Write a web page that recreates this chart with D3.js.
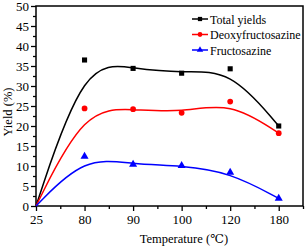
<!DOCTYPE html>
<html>
<head>
<meta charset="utf-8">
<script src="https://cdn.jsdelivr.net/npm/d3@7"></script>
<style>
body { margin: 0; background: #fff; }
svg text { font-family: "Liberation Serif", Tinos, "Times New Roman", "DejaVu Serif", serif !important; }
</style>
</head>
<body>
<svg width="307" height="247"></svg>
<script>
const temps = ['25', '80', '90', '100', '120', '180'];
const totalYields = [0, 36.5, 34.4, 33.2, 34.3, 20.0];
const deoxy = [0, 24.4, 24.2, 23.3, 26.1, 18.2];
const fructo = [0, 12.4, 10.4, 10.1, 8.4, 1.9];
const yTicks = [0, 5, 10, 15, 20, 25, 30, 35, 40, 45, 50];

const series = [
    {name: 'Total yields', values: totalYields, color: '#000000', shape: d3.symbolSquare},
    {name: 'Deoxyfructosazine', values: deoxy, color: '#ff0000', shape: d3.symbolCircle},
    {name: 'Fructosazine', values: fructo, color: '#0000ff', shape: d3.symbolTriangle}
];

const svg = d3.select('svg');
const margin = {top: 6, right: 4, bottom: 41, left: 36};
const width = 307, height = 247;
const chartWidth = width - margin.left - margin.right;
const chartHeight = height - margin.top - margin.bottom;
const chartArea = svg.append('g')
    .attr('transform', `translate(${margin.left},${margin.top})`);

const xScale = d3.scaleLinear().domain([0, temps.length - 0.5]).range([0, chartWidth]);
const yScale = d3.scaleLinear().domain([0, 50]).range([chartHeight, 0]);

// minor ticks first
chartArea.append('g')
    .attr('transform', `translate(0,${chartHeight})`)
    .call(d3.axisBottom(xScale).tickValues(d3.range(0.5, temps.length, 1)).tickSize(3).tickFormat(''))
    .call(g => g.select('.domain').remove());
chartArea.append('g')
    .call(d3.axisLeft(yScale).tickValues(d3.range(2.5, 50, 5)).tickSize(3).tickFormat(''))
    .call(g => g.select('.domain').remove());

const xAxis = chartArea.append('g')
    .attr('transform', `translate(0,${chartHeight})`)
    .call(d3.axisBottom(xScale).tickValues(d3.range(temps.length)).tickSize(5).tickPadding(4)
        .tickFormat(i => temps[i]));
const yAxis = chartArea.append('g')
    .call(d3.axisLeft(yScale).tickValues(yTicks).tickSize(5).tickPadding(2));

chartArea.selectAll('g').attr('font-family', null);
chartArea.selectAll('.tick line').attr('stroke', '#000').attr('stroke-width', 1.3);
chartArea.selectAll('.tick text').attr('font-size', 13).attr('fill', '#000');
xAxis.select('.domain').remove();
yAxis.select('.domain').remove();

// frame
chartArea.append('rect')
    .attr('x', 0).attr('y', 0)
    .attr('width', chartWidth).attr('height', chartHeight)
    .attr('fill', 'none').attr('stroke', '#000').attr('stroke-width', 1.5);

const line = d3.line()
    .x((d, i) => xScale(i))
    .y(d => yScale(d))
    .curve(d3.curveBasis);

series.forEach(s => {
    chartArea.append('path')
        .datum(s.values)
        .attr('d', line)
        .attr('fill', 'none')
        .attr('stroke', s.color)
        .attr('stroke-width', 1.5);
    chartArea.selectAll(null)
        .data(s.values.slice(1))
        .enter().append('path')
        .attr('transform', (d, i) => `translate(${xScale(i + 1)},${yScale(d)})`)
        .attr('d', d3.symbol().type(s.shape).size(s.shape === d3.symbolTriangle ? 28 : 26))
        .attr('fill', s.color);
});

// legend
const legend = svg.append('g').attr('transform', 'translate(192,19)');
series.forEach((s, i) => {
    const row = legend.append('g').attr('transform', `translate(0,${i * 15.5})`);
    row.append('line').attr('x1', 0).attr('x2', 16).attr('y1', 0).attr('y2', 0)
        .attr('stroke', s.color).attr('stroke-width', 1.5);
    row.append('path').attr('transform', 'translate(8,0)')
        .attr('d', d3.symbol().type(s.shape).size(18)).attr('fill', s.color);
    row.append('text').attr('x', 18).attr('y', 4.5)
        .attr('font-size', 12).text(s.name);
});

svg.append('text')
    .attr('x', 184).attr('y', 243)
    .attr('text-anchor', 'middle')
    .attr('font-size', 12.5)
    .text('Temperature (℃)');

svg.append('text')
    .attr('transform', 'translate(12,112) rotate(-90)')
    .attr('text-anchor', 'middle')
    .attr('font-size', 12.5)
    .text('Yield (%)');
</script>
</body>
</html>
